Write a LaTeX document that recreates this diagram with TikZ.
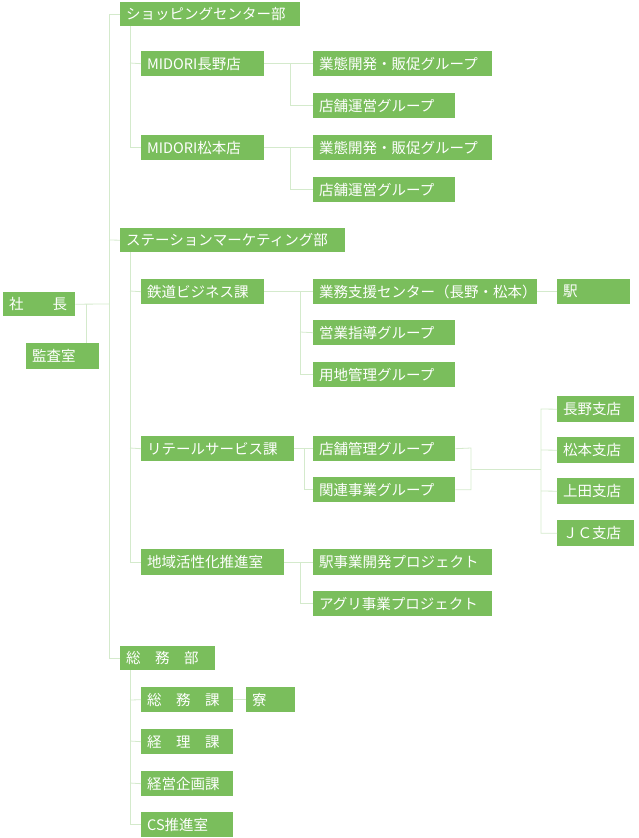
\documentclass[tikz,border=0pt]{standalone}
\usepackage{fontspec}
\setmainfont{Noto Sans CJK JP}
\definecolor{boxg}{RGB}{122,190,92}
\definecolor{lineg}{RGB}{212,234,204}
\tikzset{box/.style={fill=boxg,text=white,anchor=north west,inner xsep=6pt,inner ysep=0pt,align=left,font=\fontsize{14.5}{15}\selectfont},
 conn/.style={draw=lineg,line width=0.8pt}}
\newcommand{\bx}[6]{\node[box,minimum height=#5pt-#3pt,text width=#4pt-#2pt-12pt] (#1) at (#2,#3) {#6};}
\begin{document}
\begin{tikzpicture}[x=1pt,y=-1pt]
\useasboundingbox (0,0) rectangle (638,838);
\bx{pres}{3}{292}{75}{316}{社　　長}
\bx{audit}{26}{343}{99}{369}{監査室}
\bx{shop}{120}{2}{300}{26}{ショッピングセンター部}
\bx{nag}{141}{51}{264}{76}{MIDORI長野店}
\bx{nagA}{313}{51}{492}{76}{業態開発・販促グループ}
\bx{nagB}{313}{93}{455}{118}{店舗運営グループ}
\bx{mat}{141}{135}{264}{160}{MIDORI松本店}
\bx{matA}{313}{135}{492}{160}{業態開発・販促グループ}
\bx{matB}{313}{177}{455}{202}{店舗運営グループ}
\bx{sta}{120}{228}{345}{252}{ステーションマーケティング部}
\bx{rail}{141}{279}{264}{304}{鉄道ビジネス課}
\bx{railA}{313}{279}{537}{304}{業務支援センター（長野・松本）}
\bx{eki}{557}{279}{630}{304}{駅}
\bx{railB}{313}{320}{455}{345}{営業指導グループ}
\bx{railC}{313}{362}{455}{387}{用地管理グループ}
\bx{ret}{141}{436}{294}{461}{リテールサービス課}
\bx{retA}{313}{436}{455}{461}{店舗管理グループ}
\bx{retB}{313}{477}{455}{502}{関連事業グループ}
\bx{br1}{557}{396}{634}{422}{長野支店}
\bx{br2}{557}{437}{634}{463}{松本支店}
\bx{br3}{557}{478}{634}{504}{上田支店}
\bx{br4}{557}{520}{634}{546}{ＪＣ支店}
\bx{reg}{141}{549}{284}{575}{地域活性化推進室}
\bx{regA}{313}{549}{492}{575}{駅事業開発プロジェクト}
\bx{regB}{313}{591}{492}{616}{アグリ事業プロジェクト}
\bx{gen}{120}{646}{215}{670}{総　務　部}
\bx{genA}{141}{687}{233}{712}{総　務　課}
\bx{dorm}{246}{687}{295}{712}{寮}
\bx{genB}{141}{729}{233}{754}{経　理　課}
\bx{genC}{141}{771}{233}{796}{経営企画課}
\bx{genD}{141}{812}{233}{837}{CS推進室}
\begin{scope}[on background layer/.style={}]
% trunk
\draw[conn] (shop.west) -- ++(-11,0) |- (gen.west);
\draw[conn] (109,240) -- (sta.west);
\draw[conn] (pres.east) -- (109,304);
\draw[conn] (86,304) -- (audit.north -| 86,0);
% shopping
\draw[conn] (130,26) |- (mat.west); \draw[conn] (130,63) -- (nag.west);
\draw[conn] (nag.east) -- (nagA.west); \draw[conn] (290,63) |- (nagB.west);
\draw[conn] (mat.east) -- (matA.west); \draw[conn] (290,147) |- (matB.west);
% station
\draw[conn] (130,252) |- (reg.west); \draw[conn] (130,291) -- (rail.west); \draw[conn] (130,448) -- (ret.west);
\draw[conn] (rail.east) -- (railA.west); \draw[conn] (300,291) |- (railC.west); \draw[conn] (300,332) -- (railB.west);
\draw[conn] (railA.east) -- (eki.west);
\draw[conn] (ret.east) -- (retA.west); \draw[conn] (304,448) |- (retB.west);
\draw[conn] (retA.east) -- (471,448) |- (retB.east);
\draw[conn] (471,469) -- (541,469);
\draw[conn] (br1.west) -- (541,409) |- (br4.west);
\draw[conn] (541,450) -- (br2.west); \draw[conn] (541,491) -- (br3.west);
\draw[conn] (reg.east) -- (regA.west); \draw[conn] (300,562) |- (regB.west);
% general
\draw[conn] (130,670) |- (genD.west); \draw[conn] (130,700) -- (genA.west);
\draw[conn] (130,741) -- (genB.west); \draw[conn] (130,783) -- (genC.west);
\draw[conn] (genA.east) -- (dorm.west);
\end{scope}
\end{tikzpicture}
\end{document}
